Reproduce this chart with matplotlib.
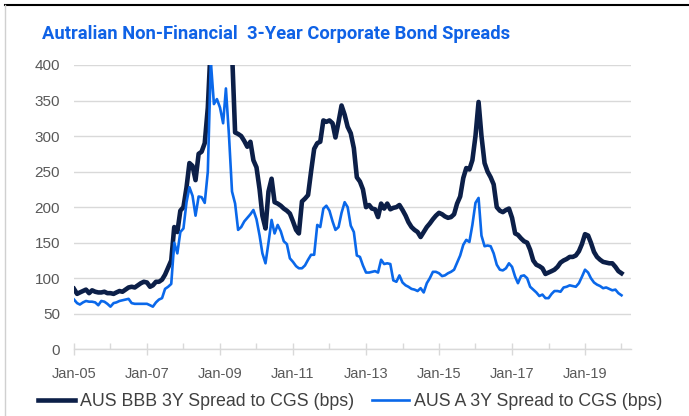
import matplotlib

matplotlib.use("Agg")
import matplotlib.dates as mdates
import matplotlib.pyplot as plt
import numpy as np
import pandas as pd
from matplotlib.lines import Line2D

# monthly spreads, Jan-2005 .. Jan-2020 (bps)
bbb_spread = [
    85, 78, 80, 82, 84, 79, 83, 81, 80, 80, 81, 79,            # 2005
    79, 78, 80, 82, 81, 84, 87, 88, 87, 90, 93, 95,            # 2006
    94, 88, 90, 95, 95, 98, 105, 115, 125, 172, 165, 195,      # 2007
    200, 228, 262, 258, 238, 275, 278, 290, 340, 430, 470, 490,  # 2008
    480, 460, 440, 420, 420, 305, 303, 300, 293, 285, 292, 266,  # 2009
    256, 225, 188, 170, 222, 240, 207, 205, 202, 198, 195, 191,  # 2010
    180, 168, 163, 208, 212, 217, 250, 282, 290, 292, 322, 320,  # 2011
    322, 318, 298, 320, 343, 330, 313, 304, 283, 242, 236, 225,  # 2012
    200, 203, 198, 197, 186, 205, 198, 205, 197, 199, 200, 203,  # 2013
    196, 188, 179, 172, 168, 165, 158, 165, 172, 177, 183, 188,  # 2014
    192, 190, 187, 185, 186, 190, 205, 215, 241, 255, 253, 266,  # 2015
    300, 348, 300, 262, 250, 242, 232, 200, 195, 193, 196, 198,  # 2016
    185, 163, 161, 156, 152, 150, 140, 125, 119, 117, 114, 106,  # 2017
    108, 110, 112, 116, 122, 125, 127, 130, 130, 132, 138, 148,  # 2018
    162, 160, 150, 137, 130, 126, 123, 122, 121, 121, 116, 110,  # 2019
    107,                                                       # 2020
]
a_spread = [
    70, 65, 63, 66, 68, 67, 67, 66, 62, 68, 67, 64,            # 2005
    60, 65, 66, 68, 69, 70, 71, 65, 64, 64, 64, 64,            # 2006
    64, 62, 60, 66, 70, 72, 85, 88, 92, 150, 135, 165,         # 2007
    170, 207, 228, 216, 188, 215, 214, 206, 250, 405, 345, 352,  # 2008
    340, 318, 367, 300, 222, 205, 168, 172, 180, 185, 190, 196,  # 2009
    183, 160, 135, 121, 150, 182, 163, 175, 166, 152, 148, 128,  # 2010
    123, 117, 114, 114, 118, 126, 133, 133, 175, 172, 198, 202,  # 2011
    195, 180, 168, 172, 192, 207, 200, 174, 165, 132, 130, 118,  # 2012
    108, 108, 109, 110, 108, 126, 120, 121, 120, 97, 95, 104,  # 2013
    94, 90, 88, 85, 84, 82, 86, 80, 93, 100, 109, 109,         # 2014
    107, 103, 104, 107, 109, 112, 122, 132, 147, 154, 151, 175,  # 2015
    206, 213, 160, 145, 146, 145, 135, 119, 112, 111, 114, 121,  # 2016
    116, 102, 93, 103, 104, 100, 88, 84, 80, 75, 77, 72,       # 2017
    72, 78, 82, 82, 81, 87, 88, 90, 89, 88, 93, 102,           # 2018
    112, 108, 100, 94, 91, 89, 86, 87, 85, 83, 84, 79,         # 2019
    76,                                                        # 2020
]
dates = pd.date_range("2005-01-01", periods=len(bbb_spread), freq="MS")
label_years = list(range(2005, 2020, 2))
tick_years = list(range(2005, 2021))

series_labels = ["AUS BBB 3Y Spread to CGS (bps)", "AUS A 3Y Spread to CGS (bps)"]
title = "Autralian Non-Financial  3-Year Corporate Bond Spreads"

NAVY = "#0c1f48"
BLUE = "#0a68ea"
GRID = "#d9d9d9"
TICK = "#595959"

plt.rcParams["font.family"] = ["Liberation Sans", "DejaVu Sans"]

fig = plt.figure(figsize=(6.89, 4.16), dpi=100)
ax = fig.add_axes([0.1074, 0.1603, 0.8084, 0.6835])

ax.plot(dates, bbb_spread, color=NAVY, lw=3.3, label=series_labels[0],
        solid_joinstyle="round", zorder=3)
ax.plot(dates, a_spread, color=BLUE, lw=1.9, label=series_labels[1],
        solid_joinstyle="round", zorder=4)

ax.set_ylim(0, 400)
ax.set_yticks(np.arange(0, 401, 50))
ax.set_xlim(pd.Timestamp("2005-01-01"), pd.Timestamp("2020-04-05"))
ax.set_xticks([pd.Timestamp(f"{y}-01-01") for y in label_years])
ax.set_xticks([pd.Timestamp(f"{y}-01-01") for y in tick_years], minor=True)
ax.xaxis.set_major_formatter(mdates.DateFormatter("%b-%y"))

ax.grid(axis="y", color=GRID, lw=1.0)
ax.set_axisbelow(True)
for side in ("top", "right", "left"):
    ax.spines[side].set_visible(False)
ax.spines["bottom"].set_color(GRID)
ax.spines["bottom"].set_linewidth(1.0)

ax.tick_params(axis="y", length=0, labelsize=11, labelcolor=TICK, pad=10)
ax.tick_params(axis="x", which="major", direction="inout", length=9, width=1,
               color=GRID, labelsize=10.5, labelcolor=TICK, pad=8)
ax.tick_params(axis="x", which="minor", direction="in", length=4, width=1, color=GRID)

fig.text(0.061, 0.918, title, color="#0f62e6", fontsize=13.2, fontweight="bold",
         family=["Roboto", "DejaVu Sans"], va="center", ha="left")

leg = fig.legend(loc="center", bbox_to_anchor=(0.508, 0.034), ncol=2, frameon=False,
                 fontsize=12.8, handlelength=2.1, handletextpad=0.25, columnspacing=1.0)
for t in leg.get_texts():
    t.set_color("#404040")

# frame edges of the original clipping
fig.add_artist(Line2D([0.007, 1.0], [0.988, 0.988], color="black", lw=1.5))
fig.add_artist(Line2D([0.007, 0.007], [0.0, 0.988], color="#d0d0d0", lw=1.0))

fig.savefig("out.png", dpi=100)
